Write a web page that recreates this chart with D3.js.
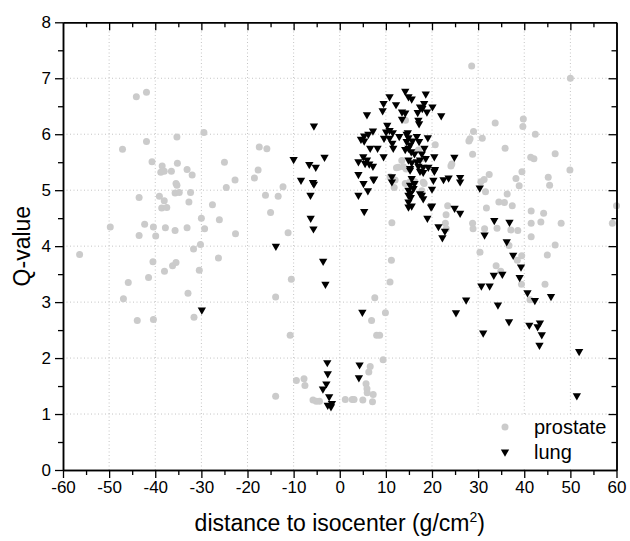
<!DOCTYPE html>
<html>
<head>
<meta charset="utf-8">
<script src="https://cdn.jsdelivr.net/npm/d3@7"></script>
<style>
  body { margin: 0; background: #fff; }
  svg { font-family: "Liberation Sans", Arial, sans-serif; }
</style>
</head>
<body>
<svg id="chart" width="630" height="541"></svg>
<script>
// values: [distance, Q-value]
const prostate = [
  [-44.1,6.67],[-41.9,6.75],[-29.45,6.03],[-35.3,5.95],[-41.9,5.87],[-47.1,5.73],[-40.7,5.51],[-38.5,5.43],[-35.2,5.48],[-25.0,5.50],
  [-38.8,5.32],[-38.05,5.34],[-36.5,5.34],[-33.1,5.37],[-32.0,5.27],[-22.7,5.18],[-35.5,5.12],[-35.3,5.09],[-24.6,5.05],
  [-43.5,4.87],[-39.1,4.89],[-38.05,4.81],[-35.7,4.95],[-34.8,4.96],[-32.35,4.96],[-32.7,4.79],[-27.6,4.74],[-38.6,4.68],[-37.5,4.69],
  [-30.0,4.50],[-26.1,4.47],[-49.75,4.34],[-42.3,4.39],[-40.4,4.34],[-37.8,4.33],[-35.7,4.28],[-33.1,4.33],[-29.3,4.31],[-43.5,4.19],
  [-39.9,4.18],[-22.6,4.22],[-30.2,4.03],[-56.4,3.85],[-31.7,3.95],[-26.3,3.79],[-40.5,3.72],[-36.25,3.65],[-35.5,3.71],[-38.0,3.55],
  [-30.45,3.57],[-45.85,3.35],[-41.45,3.44],[-32.9,3.16],[-46.9,3.06],[-43.9,2.67],[-40.4,2.69],[-31.6,2.73],
  [-17.45,5.77],[-15.8,5.74],[-17.7,5.36],[-18.5,5.22],[-12.3,5.06],[-16.1,4.91],[-13.35,4.89],[-15.0,4.60],[-11.2,4.24],
  [-10.5,3.41],[-13.9,3.09],[-10.75,2.41],[-9.4,1.60],[-7.75,1.63],[-7.55,1.51],[-13.9,1.32],[-5.8,1.25],[-5.1,1.23],[-4.4,1.23],
  [1.2,1.26],[2.7,1.26],[3.1,1.26],[5.0,1.25],[7.1,1.22],[7.25,1.35],[5.7,1.54],[5.9,1.45],[5.95,1.38],[6.3,1.75],[6.6,1.85],[9.4,1.97],
  [8.0,2.41],[8.65,2.41],[6.9,2.67],[9.9,2.81],[7.6,3.08],[10.9,3.36],[11.2,3.75],[11.3,4.42],
  [14.25,6.25],[13.45,5.53],[12.3,5.40],[13.8,5.42],[10.9,5.24],[11.8,5.05],[14.2,5.12],[16.3,5.15],[17.05,5.72],[18.3,5.56],
  [18.3,5.12],[12.7,5.41],[14.4,5.38],[12.0,5.18],[15.25,5.15],[18.1,5.14],[17.8,4.99],[24.1,5.43],[20.7,5.81],[24.3,5.47],
  [28.6,7.22],[50.0,7.0],[33.7,6.20],[39.8,6.27],[39.7,6.14],[29.0,6.05],[28.25,5.92],[28.0,5.88],[30.9,5.93],[42.4,6.0],
  [35.85,5.75],[28.8,5.64],[41.4,5.59],[42.1,5.56],[46.7,5.65],[49.9,5.36],[39.5,5.33],[32.4,5.28],[38.2,5.21],[38.9,5.08],
  [45.2,5.23],[45.5,5.09],[31.3,5.19],[30.6,5.15],[31.6,4.97],[36.3,4.93],[34.5,4.79],[35.7,4.78],[37.4,4.72],[31.8,4.68],
  [41.5,4.63],[44.2,4.59],[60.0,4.72],[59.1,4.41],[43.6,4.43],[41.5,4.41],[48.0,4.41],[28.8,4.41],[28.9,4.31],[31.4,4.31],
  [34.1,4.32],[37.1,4.29],[38.6,4.28],[41.5,4.17],[46.7,4.02],[23.4,4.72],[23.05,4.56],[22.9,4.41],[23.1,4.31],
  [30.4,3.89],[36.7,4.01],[39.45,3.83],[38.5,3.75],[45.0,3.84],[33.9,3.65],[34.9,3.55],[39.4,3.32],[44.5,3.32],[41.25,3.04]
];

const lung = [
  [-29.9,2.86],[-13.85,4.00],[-10.0,5.55],[-8.4,5.18],[-6.6,5.46],[-5.2,5.41],[-5.8,5.14],[-5.6,5.11],[-6.35,4.91],[-6.3,4.50],
  [-5.7,4.31],[-5.6,6.15],[-3.3,5.59],[-3.6,3.73],[-3.1,3.32],[-2.7,1.92],[-2.6,1.72],[-2.9,1.54],[-3.65,1.45],[-2.3,1.31],
  [-2.6,1.16],[-1.7,1.19],[-1.9,1.13],[4.3,1.88],[4.15,1.65],[4.9,2.82],
  [4.05,5.51],[4.05,5.28],[4.05,4.91],[5.3,4.62],[7.45,5.20],[6.1,4.99],[5.15,5.12],[7.3,5.19],[9.5,5.60],
  [5.1,5.60],[5.9,5.54],[5.5,5.48],[6.4,5.47],[7.2,5.43],[5.9,6.35],
  [6.2,6.0],[5.3,5.97],[4.6,5.91],[5.3,5.88],[7.2,6.06],[6.6,5.75],[8.2,5.75],
  [9.3,6.42],[9.5,6.55],[10.8,6.67],[12.2,6.53],[13.5,6.40],[13.5,6.27],[14.2,6.77],[14.9,6.67],
  [10.3,6.16],[10.8,6.07],[10.05,6.04],[11.5,6.03],[9.6,5.93],[10.8,5.93],[12.9,5.96],[14.5,6.0],[11.4,5.84],[11.6,5.75],[14.2,5.73],
  [15.6,6.63],[18.65,6.72],[18.3,6.55],[20.1,6.49],[17.4,6.49],[16.9,6.39],[17.9,6.46],[18.9,6.40],[22.0,6.33],[14.2,6.38],
  [17.05,6.25],[17.2,6.19],[19.1,5.94],
  [14.75,6.03],[14.9,5.94],[14.5,5.87],[15.25,5.81],[15.75,5.88],[16.7,5.96],[17.2,5.87],
  [14.9,5.75],[15.5,5.69],[18.35,5.75],[17.8,5.65],[16.2,5.65],[20.5,5.60],[18.65,5.57],[24.85,5.59],
  [14.9,5.54],[15.6,5.49],[16.7,5.51],[17.4,5.54],[17.05,5.43],[18.1,5.41],[19.2,5.41],[20.65,5.37],[15.25,5.39],
  [11.3,5.24],[11.3,5.15],[14.9,4.91],[14.9,4.79],[14.9,4.70],
  [15.25,5.36],[17.4,5.34],[18.1,5.32],[20.5,5.34],[15.6,5.21],[16.2,5.12],[15.25,5.09],[14.9,5.0],[16.0,5.03],
  [17.4,4.94],[18.1,4.85],[17.8,4.91],[20.3,5.18],[20.0,5.02],[22.5,5.19],[23.6,5.22],[26.1,5.23],[26.1,5.15],
  [15.6,4.72],[15.4,4.95],[15.4,4.87],[19.8,4.70],[20.0,4.72],[19.0,4.50],[24.9,4.68],[26.1,4.59],
  [21.4,4.35],[22.8,4.27],[22.25,4.15],[30.35,5.04],
  [33.5,4.46],[36.8,4.43],[31.4,4.20],[36.2,4.08],[37.6,3.84],[39.3,3.63],[39.0,3.44],[33.4,3.48],[35.25,3.50],
  [30.7,3.29],[32.5,3.29],[40.7,3.17],[42.3,3.03],[45.8,3.10],[27.4,3.04],[25.2,2.81],[34.3,2.95],[36.7,2.65],
  [41.1,2.59],[42.9,2.56],[43.4,2.63],[43.8,2.42],[43.3,2.23],[31.1,2.45],[51.9,2.12],[51.4,1.33]
];

const xTicks = d3.range(-60, 61, 10);
const xMinor = d3.range(-55, 60, 10);
const yTicks = d3.range(0, 9, 1);
const yMinor = d3.range(0.5, 8, 1);
const seriesNames = ["prostate", "lung"];

const svg = d3.select("#chart");
const margin = {left: 63, right: 13.5, top: 22.3, bottom: 71};
const width = +svg.attr("width");
const height = +svg.attr("height");

const x = d3.scaleLinear().domain([-60, 60]).range([margin.left, width - margin.right]);
const y = d3.scaleLinear().domain([0, 8]).range([height - margin.bottom, margin.top]);

const gray = "#cbcbcb";
const plainNum = d => String(d);   // plain hyphen for negatives, like the original

// dotted grid
const grid = svg.append("g").attr("stroke", "#c4c4c4").attr("stroke-dasharray", "1,2.5").attr("stroke-width", 1);
grid.selectAll("line.gx")
    .data(xTicks.slice(1, -1))
    .enter().append("line")
    .attr("x1", d => x(d)).attr("x2", d => x(d))
    .attr("y1", y(0)).attr("y2", y(8));
grid.selectAll("line.gy")
    .data(yTicks.slice(1, -1))
    .enter().append("line")
    .attr("y1", d => y(d)).attr("y2", d => y(d))
    .attr("x1", x(-60)).attr("x2", x(60));

// points
svg.append("g").selectAll("circle")
    .data(prostate)
    .enter().append("circle")
    .attr("cx", d => x(d[0]))
    .attr("cy", d => y(d[1]))
    .attr("r", 3.5)
    .attr("fill", gray);

const tri = d3.symbol().type(d3.symbolTriangle).size(30);
svg.append("g").selectAll("path")
    .data(lung)
    .enter().append("path")
    .attr("d", tri)
    .attr("transform", d => `translate(${x(d[0])},${y(d[1])}) rotate(180)`)
    .attr("fill", "#000");

// legend (white box hides the grid behind it)
const leg = svg.append("g");
leg.append("rect")
    .attr("x", x(30) - 2).attr("y", y(1) + 1)
    .attr("width", x(60) - x(30) + 1).attr("height", y(0) - y(1) - 2)
    .attr("fill", "#fff");
leg.append("circle").attr("cx", 505).attr("cy", 427).attr("r", 3.5).attr("fill", gray);
leg.append("path").attr("d", tri).attr("transform", "translate(505,452) rotate(180)");
leg.selectAll("text")
    .data(seriesNames)
    .enter().append("text")
    .attr("x", 534)
    .attr("y", (d, i) => 427 + i * 25)
    .attr("dy", "0.35em")
    .attr("font-size", 20)
    .text(d => d);

// axes
function styleAxis(g) {
    g.select(".domain").attr("stroke-width", 1.5);
    g.selectAll(".tick line").attr("stroke-width", 1.3);
}

svg.append("g")
    .attr("transform", `translate(0,${y(0)})`)
    .call(d3.axisBottom(x).tickValues(xMinor).tickSize(5).tickSizeOuter(0).tickFormat(""))
    .call(styleAxis);
svg.append("g")
    .attr("transform", `translate(0,${y(0)})`)
    .call(d3.axisBottom(x).tickValues(xTicks).tickSize(8).tickSizeOuter(0).tickPadding(3).tickFormat(plainNum))
    .call(styleAxis)
    .selectAll("text").attr("font-size", 17).attr("fill", "#000");

svg.append("g")
    .attr("transform", `translate(0,${y(8)})`)
    .call(d3.axisTop(x).tickValues(xMinor).tickSize(-5).tickSizeOuter(0).tickFormat(""))
    .call(styleAxis);
svg.append("g")
    .attr("transform", `translate(0,${y(8)})`)
    .call(d3.axisTop(x).tickValues(xTicks.slice(1, -1)).tickSize(-8).tickSizeOuter(0).tickFormat(""))
    .call(styleAxis);

svg.append("g")
    .attr("transform", `translate(${x(-60)},0)`)
    .call(d3.axisLeft(y).tickValues(yMinor).tickSize(5).tickSizeOuter(0).tickFormat(""))
    .call(styleAxis);
svg.append("g")
    .attr("transform", `translate(${x(-60)},0)`)
    .call(d3.axisLeft(y).tickValues(yTicks).tickSize(8).tickSizeOuter(0).tickPadding(4).tickFormat(plainNum))
    .call(styleAxis)
    .selectAll("text").attr("font-size", 17).attr("fill", "#000");

svg.append("g")
    .attr("transform", `translate(${x(60)},0)`)
    .call(d3.axisRight(y).tickValues(yMinor).tickSize(-5).tickSizeOuter(0).tickFormat(""))
    .call(styleAxis);
svg.append("g")
    .attr("transform", `translate(${x(60)},0)`)
    .call(d3.axisRight(y).tickValues(yTicks.slice(1, -1)).tickSize(-8).tickSizeOuter(0).tickFormat(""))
    .call(styleAxis);

// axis titles
const xTitle = svg.append("text")
    .attr("x", (x(-60) + x(60)) / 2)
    .attr("y", 531)
    .attr("text-anchor", "middle")
    .attr("font-size", 23);
xTitle.append("tspan").text("distance to isocenter (g/cm");
xTitle.append("tspan").attr("font-size", 14).attr("dy", -9).text("2");
xTitle.append("tspan").attr("dy", 9).text(")");

svg.append("text")
    .attr("transform", `translate(30,${(y(0) + y(8)) / 2}) rotate(-90)`)
    .attr("text-anchor", "middle")
    .attr("font-size", 23)
    .text("Q-value");
</script>
</body>
</html>
